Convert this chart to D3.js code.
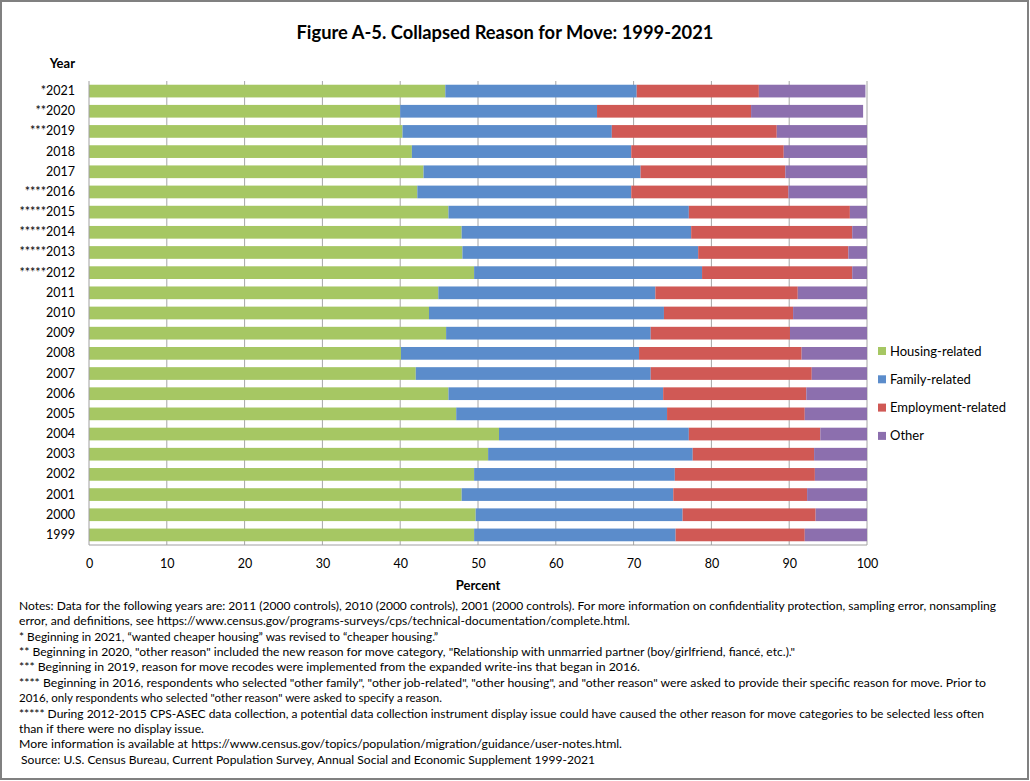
<!DOCTYPE html>
<html>
<head>
<meta charset="utf-8">
<script src="https://cdn.jsdelivr.net/npm/d3@7"></script>
<style>
html,body{margin:0;padding:0;background:#fff;}
svg{display:block;font-family:Lato,"Liberation Sans",sans-serif;}
</style>
</head>
<body>
<svg id="chart" width="1030" height="781"></svg>
<script>
const years = ["*2021","**2020","***2019","2018","2017","****2016","*****2015","*****2014","*****2013","*****2012","2011","2010","2009","2008","2007","2006","2005","2004","2003","2002","2001","2000","1999"];
const housing    = [45.8,40.0,40.3,41.5,43.0,42.2,46.2,47.9,48.0,49.5,44.9,43.7,45.9,40.1,42.0,46.2,47.2,52.7,51.3,49.5,47.9,49.7,49.5];
const family     = [24.6,25.3,26.9,28.2,27.9,27.5,30.9,29.5,30.3,29.3,27.9,30.2,26.3,30.6,30.2,27.6,27.1,24.4,26.3,25.8,27.2,26.6,25.9];
const employment = [15.7,19.8,21.2,19.6,18.6,20.2,20.7,20.7,19.3,19.3,18.3,16.6,17.9,20.9,20.7,18.4,17.7,16.9,15.6,18.0,17.2,17.1,16.6];
const other      = [13.7,14.4,11.6,10.7,10.5,10.1,2.2,1.9,2.4,1.9,8.9,9.5,9.9,8.4,7.1,7.8,8.0,6.0,6.8,6.7,7.7,6.6,8.0];
const seriesNames = ["Housing-related","Family-related","Employment-related","Other"];
const seriesColors = ["#a6c763","#5b8ccb","#d05955","#8c6fae"];
const xTicks = [0,10,20,30,40,50,60,70,80,90,100];
const titleText = "Figure A-5. Collapsed Reason for Move: 1999-2021";
const notes = [
  "Notes: Data for the following years are: 2011 (2000 controls), 2010 (2000 controls), 2001 (2000 controls). For more information on confidentiality protection, sampling error, nonsampling",
  "error, and definitions, see https://www.census.gov/programs-surveys/cps/technical-documentation/complete.html.",
  "* Beginning in 2021, \u201cwanted cheaper housing\u201d was revised to \u201ccheaper housing.\u201d",
  "** Beginning in 2020, \"other reason\" included the new reason for move category, \"Relationship with unmarried partner (boy/girlfriend, fianc\u00e9, etc.).\"",
  "*** Beginning in 2019, reason for move recodes were implemented from the expanded write-ins that began in 2016.",
  "**** Beginning in 2016, respondents who selected \"other family\", \"other job-related\", \"other housing\", and \"other reason\" were asked to provide their specific reason for move. Prior to",
  "2016, only respondents who selected \"other reason\" were asked to specify a reason.",
  "***** During 2012-2015 CPS-ASEC data collection, a potential data collection instrument display issue could have caused the other reason for move categories to be selected less often",
  "than if there were no display issue.",
  "More information is available at https://www.census.gov/topics/population/migration/guidance/user-notes.html.",
  " Source: U.S. Census Bureau, Current Population Survey, Annual Social and Economic Supplement 1999-2021"
];
// layout: right end (px) of each note line in the picture
const noteEnds = [996,630,438,795,640,986,442,984,204,622,595];

const rows = years.map((y,i)=>({year:y, "Housing-related":housing[i], "Family-related":family[i], "Employment-related":employment[i], "Other":other[i]}));
const stacked = d3.stack().keys(seriesNames)(rows);

const svg = d3.select("#chart");
svg.append("rect").attr("x",1).attr("y",1).attr("width",1027).attr("height",778)
  .attr("fill","#fff").attr("stroke","#808080").attr("stroke-width",2);

const x = d3.scaleLinear().domain([0,100]).range([89,867]);
const y = d3.scaleBand().domain(years).range([81,545]).paddingInner(0.37).paddingOuter(0.185);

// gridlines
svg.append("g").selectAll("line").data(xTicks.filter(d=>d>0)).join("line")
  .attr("x1",d=>x(d)).attr("x2",d=>x(d)).attr("y1",81).attr("y2",545)
  .attr("stroke","#a6a6a6").attr("stroke-width",1);

// bars
const color = d3.scaleOrdinal().domain(seriesNames).range(seriesColors);
svg.append("g").selectAll("g").data(stacked).join("g")
  .attr("fill",d=>color(d.key))
  .selectAll("rect").data(d=>d).join("rect")
  .attr("x",d=>x(d[0])).attr("width",d=>x(d[1])-x(d[0]))
  .attr("y",d=>y(d.data.year)).attr("height",y.bandwidth());

// axes lines
svg.append("line").attr("x1",x(0)).attr("x2",x(0)).attr("y1",81).attr("y2",545).attr("stroke","#a0a0a0");
svg.append("line").attr("x1",x(0)).attr("x2",x(100)).attr("y1",545).attr("y2",545).attr("stroke","#a0a0a0");

// x axis labels
const xAxis = d3.axisBottom(x).tickValues(xTicks).tickSize(0).tickPadding(14);
const gx = svg.append("g").attr("transform","translate(0,545)").call(xAxis);
gx.select(".domain").remove();
gx.selectAll("text").attr("font-family","Lato,'Liberation Sans',sans-serif").attr("font-size",12.5).attr("fill","#000");

// y axis labels
const yAxis = d3.axisLeft(y).tickSize(0).tickPadding(14);
const gy = svg.append("g").attr("transform","translate(89,0)").call(yAxis);
gy.select(".domain").remove();
gy.selectAll("text").attr("font-family","Lato,'Liberation Sans',sans-serif").attr("font-size",12.5).attr("fill","#000");

// title
svg.append("text").attr("x",505).attr("y",33).attr("dy","0.35em").attr("text-anchor","middle")
  .attr("font-weight","bold").attr("font-size",18).attr("textLength",417).attr("lengthAdjust","spacingAndGlyphs")
  .text(titleText);

svg.append("text").attr("x",75).attr("y",63).attr("dy","0.35em").attr("text-anchor","end")
  .attr("font-weight","bold").attr("font-size",13).text("Year");

svg.append("text").attr("x",478).attr("y",585).attr("dy","0.35em").attr("text-anchor","middle")
  .attr("font-weight","bold").attr("font-size",13).text("Percent");

// legend
const lg = svg.append("g").selectAll("g").data(seriesNames).join("g")
  .attr("transform",(d,i)=>`translate(878,${351+i*28.3})`);
lg.append("rect").attr("x",0).attr("y",-4).attr("width",8).attr("height",8).attr("fill",d=>color(d));
lg.append("text").attr("x",12).attr("y",0).attr("dy","0.35em").attr("font-size",13).text(d=>d);

// notes
const ng = svg.append("g");
ng.selectAll("text").data(notes).join("text")
  .attr("x",(d,i)=> i===10 ? 18 : 19).attr("y",(d,i)=>606+i*15.4).attr("dy","0.35em")
  .attr("font-size",11).attr("xml:space","preserve").style("white-space","pre")
  .attr("textLength",(d,i)=>noteEnds[i]-(i===10 ? 18 : 19)).attr("lengthAdjust","spacingAndGlyphs")
  .text(d=>d);
</script>
</body>
</html>
